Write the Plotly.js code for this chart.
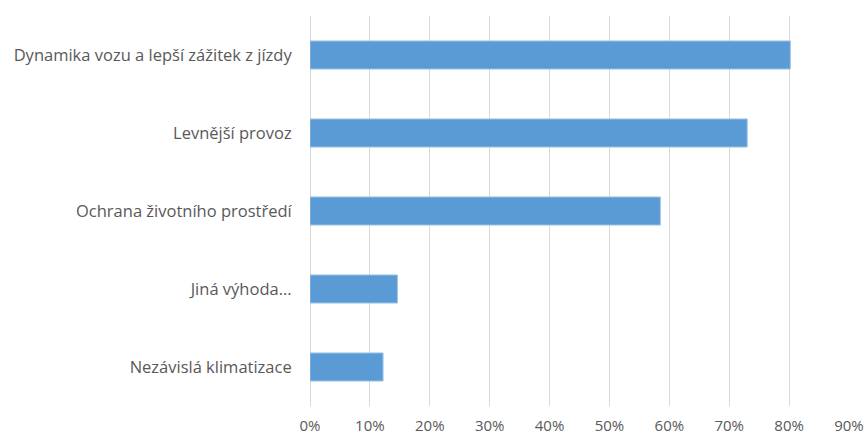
<!DOCTYPE html>
<html>
<head>
<meta charset="utf-8">
<script src="https://cdn.plot.ly/plotly-3.0.1.min.js"></script>
<style>html,body{margin:0;padding:0;background:#fff;}#chart{width:866px;height:438px;}</style>
</head>
<body>
<div id="chart"></div>
<script>
const categories = [
  "Nezávislá klimatizace",
  "Jiná výhoda...",
  "Ochrana životního prostředí",
  "Levnější provoz",
  "Dynamika vozu a lepší zážitek z jízdy"
];
const values = [0.122, 0.146, 0.585, 0.730, 0.802];
const tickVals = [0, 0.1, 0.2, 0.3, 0.4, 0.5, 0.6, 0.7, 0.8, 0.9];
const tickText = ["0%", "10%", "20%", "30%", "40%", "50%", "60%", "70%", "80%", "90%"];

const trace = {
  type: "bar",
  orientation: "h",
  y: categories,
  x: values,
  width: 0.36,
  marker: { color: "#5B9BD5", line: { color: "#9DC3E6", width: 1 } },
  hoverinfo: "x+y"
};

const layout = {
  width: 866,
  height: 438,
  margin: { l: 310, r: 17, t: 16, b: 32 },
  paper_bgcolor: "#ffffff",
  plot_bgcolor: "#ffffff",
  font: { family: "Open Sans, sans-serif", size: 16, color: "#595959" },
  showlegend: false,
  xaxis: {
    range: [0, 0.9],
    tickvals: tickVals,
    ticktext: tickText,
    showgrid: true,
    gridcolor: "#d9d9d9",
    gridwidth: 1,
    zeroline: true,
    zerolinecolor: "#d9d9d9",
    zerolinewidth: 1,
    showline: false,
    ticks: "outside",
    ticklen: 6,
    tickcolor: "rgba(0,0,0,0)",
    tickfont: { size: 15, color: "#595959" },
    fixedrange: true
  },
  yaxis: {
    range: [-0.5, 4.5],
    showgrid: false,
    zeroline: false,
    showline: false,
    ticks: "outside",
    ticklen: 14,
    tickcolor: "rgba(0,0,0,0)",
    tickfont: { size: 16.5, color: "#595959" },
    fixedrange: true
  }
};

Plotly.newPlot("chart", [trace], layout, { displayModeBar: false, staticPlot: true });
</script>
</body>
</html>
